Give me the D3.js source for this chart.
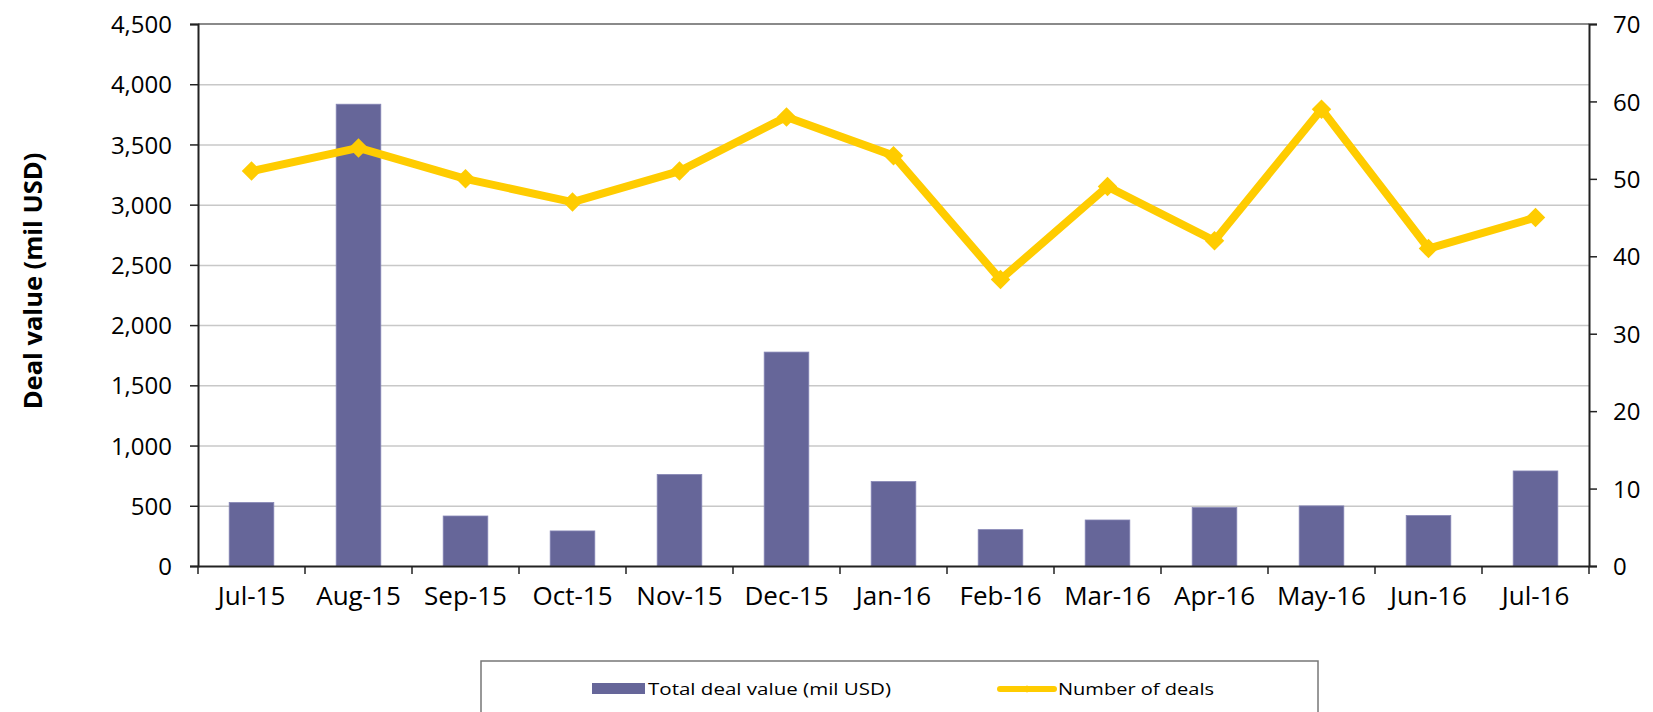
<html>
<head>
<script src="https://d3js.org/d3.v7.min.js"></script>
<style>
  body { margin: 0; background: white; }
  svg text { font-family: "Open Sans", "Noto Sans", sans-serif; fill: #000; }
  .gridlines line { stroke: #c8c8c8; stroke-width: 1.5; }
  .gridlines .domain { stroke: none; }
</style>
</head>
<body>
<svg id="chart" width="1653" height="712"></svg>
<script>
// data
const months = ["Jul-15","Aug-15","Sep-15","Oct-15","Nov-15","Dec-15","Jan-16","Feb-16","Mar-16","Apr-16","May-16","Jun-16","Jul-16"];
const dealValue = [527, 3834, 415, 291, 760, 1776, 701, 302, 382, 485, 499, 419, 789];
const dealCount = [51, 54, 50, 47, 51, 58, 53, 37, 49, 42, 59, 41, 45];
const leftTicks = [0, 500, 1000, 1500, 2000, 2500, 3000, 3500, 4000, 4500];
const rightTicks = [0, 10, 20, 30, 40, 50, 60, 70];

const svg = d3.select("svg#chart");
const plotL = 198, plotR = 1589, plotT = 24, plotB = 566;

const x = d3.scaleBand().domain(months).range([plotL, plotR]).padding(0);
const yL = d3.scaleLinear().domain([0, 4500]).range([plotB, plotT]);
const yR = d3.scaleLinear().domain([0, 70]).range([plotB, plotT]);

// gridlines
svg.append("g").attr("class", "gridlines")
   .attr("transform", `translate(${plotL},0)`)
   .call(d3.axisLeft(yL).tickValues(leftTicks.slice(1, -1)).tickSize(-(plotR - plotL)).tickFormat(""));

// top border
svg.append("line").attr("x1", plotL).attr("x2", plotR).attr("y1", plotT).attr("y2", plotT)
   .attr("stroke", "#8a8a8a").attr("stroke-width", 2);

// bars
const bw = x.bandwidth() * 0.417;
svg.selectAll("rect.bar").data(months)
   .join("rect").attr("class", "bar")
   .attr("x", (d) => x(d) + x.bandwidth() / 2 - bw / 2)
   .attr("y", (d, i) => yL(dealValue[i]))
   .attr("width", bw)
   .attr("height", (d, i) => plotB - yL(dealValue[i]))
   .attr("fill", "#666699")
   .attr("stroke", "#8585b5").attr("stroke-width", 0.8);

// left axis
const axL = svg.append("g").attr("transform", `translate(${plotL},0)`)
   .call(d3.axisLeft(yL).tickValues(leftTicks).tickSize(8).tickPadding(18).tickFormat(d3.format(",")));
axL.select(".domain").attr("stroke", "#222").attr("stroke-width", 2);
axL.selectAll(".tick line").attr("stroke", "#222").attr("stroke-width", 1.5);
axL.selectAll("text").attr("font-size", 24).attr("dy", "0.36em");

// right axis
const axR = svg.append("g").attr("transform", `translate(${plotR},0)`)
   .call(d3.axisRight(yR).tickValues(rightTicks).tickSize(8).tickPadding(16));
axR.select(".domain").attr("stroke", "#222").attr("stroke-width", 2);
axR.selectAll(".tick line").attr("stroke", "#222").attr("stroke-width", 1.5);
axR.selectAll("text").attr("font-size", 24).attr("dy", "0.36em");

// bottom axis: labels centred, ticks at band edges
const axB = svg.append("g").attr("transform", `translate(0,${plotB})`)
   .call(d3.axisBottom(x).tickSize(0).tickPadding(21));
axB.select(".domain").attr("stroke", "#222").attr("stroke-width", 2);
axB.selectAll("text").attr("font-size", 26).attr("dy", "0.71em");
const edges = months.map((m) => x(m)).concat([plotR]);
svg.selectAll("line.xtick").data(edges)
   .join("line").attr("class", "xtick")
   .attr("x1", (d) => d).attr("x2", (d) => d)
   .attr("y1", plotB).attr("y2", plotB + 8)
   .attr("stroke", "#222").attr("stroke-width", 1.5);

// line series
const cx = (i) => x(months[i]) + x.bandwidth() / 2;
const line = d3.line().x((d, i) => cx(i)).y((d) => yR(d));
svg.append("path").datum(dealCount)
   .attr("d", line).attr("fill", "none")
   .attr("stroke", "#ffcc00").attr("stroke-width", 8).attr("stroke-linejoin", "round");
svg.selectAll("path.mark").data(dealCount)
   .join("path").attr("class", "mark")
   .attr("d", d3.symbol(d3.symbolSquare, 190))
   .attr("transform", (d, i) => `translate(${cx(i)},${yR(d)}) rotate(45)`)
   .attr("fill", "#ffcc00");

// y axis title
svg.append("text")
   .attr("transform", "translate(42,281) rotate(-90)")
   .attr("text-anchor", "middle")
   .attr("font-size", 25.5).attr("font-weight", "bold")
   .text("Deal value (mil USD)");

// legend
const lg = svg.append("g");
lg.append("rect").attr("x", 481).attr("y", 661).attr("width", 837).attr("height", 70)
  .attr("fill", "white").attr("stroke", "#777").attr("stroke-width", 1.5);
lg.append("rect").attr("x", 592).attr("y", 683).attr("width", 53).attr("height", 11).attr("fill", "#666699");
lg.append("text").attr("x", 648).attr("y", 695)
  .attr("font-size", 17).attr("textLength", 243).attr("lengthAdjust", "spacingAndGlyphs")
  .text("Total deal value (mil USD)");
lg.append("line").attr("x1", 1000).attr("x2", 1054).attr("y1", 689).attr("y2", 689)
  .attr("stroke", "#ffcc00").attr("stroke-width", 6).attr("stroke-linecap", "round");
lg.append("path").attr("d", d3.symbol(d3.symbolSquare, 30))
  .attr("transform", "translate(1027,689) rotate(45)").attr("fill", "#ffcc00");
lg.append("text").attr("x", 1058).attr("y", 695)
  .attr("font-size", 17).attr("textLength", 156).attr("lengthAdjust", "spacingAndGlyphs")
  .text("Number of deals");
</script>
</body>
</html>
